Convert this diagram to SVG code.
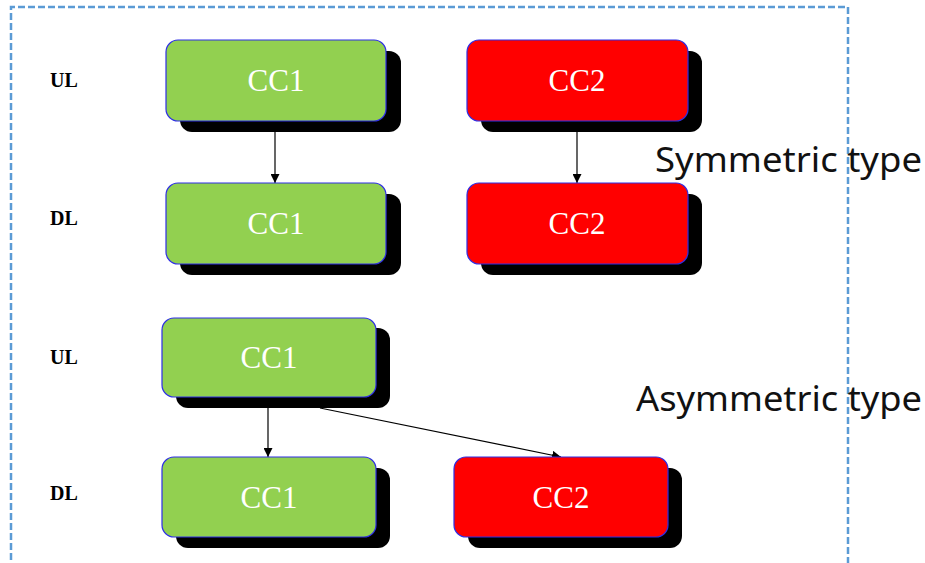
<svg xmlns="http://www.w3.org/2000/svg" width="925" height="563" viewBox="0 0 925 563">
<defs>
<style>
.frame{fill:none;stroke:#5B9BD5;stroke-width:2.5;stroke-dasharray:7 3}
.sh{fill:#000}
.g{fill:#92D050;stroke:#2E2EE6;stroke-width:1.2}
.r{fill:#FF0000;stroke:#2E2EE6;stroke-width:1.2}
.t{fill:#fff;font-family:"Liberation Serif",serif;font-size:31px;text-anchor:middle}
.lab{fill:#000;font-family:"Liberation Serif",serif;font-size:20px;font-weight:bold}
.big{fill:#111;font-family:"Noto Sans","Liberation Sans",sans-serif;font-size:34px}
.c{stroke:#000;stroke-width:1.2;fill:none;marker-end:url(#ah)}
</style>
<marker id="ah" viewBox="0 0 10 10" refX="10" refY="5" markerWidth="9" markerHeight="9" markerUnits="userSpaceOnUse" orient="auto">
<path d="M0,0 L10,5 L0,10 z" fill="#000"/>
</marker>
</defs>
<rect width="925" height="563" fill="#fff"/>
<path class="frame" d="M11,570 L11,7 L848,7 L848,570"/>
<text class="lab" x="50" y="87">UL</text>
<text class="lab" x="50" y="225">DL</text>
<text class="lab" x="50" y="364">UL</text>
<text class="lab" x="50" y="500">DL</text>
<text class="big" x="655" y="172" textLength="267" lengthAdjust="spacingAndGlyphs">Symmetric type</text>
<text class="big" x="636" y="411" textLength="286" lengthAdjust="spacingAndGlyphs">Asymmetric type</text>
<g id="connectors">
<line class="c" x1="275" y1="121" x2="275" y2="183"/>
<line class="c" x1="577" y1="121" x2="577" y2="183"/>
<line class="c" x1="268" y1="397" x2="268" y2="457"/>
<line class="c" x1="320" y1="408" x2="561" y2="457"/>
</g>
<g id="sym_ul_cc1">
<rect class="sh" x="180" y="51" width="221" height="81" rx="12"/>
<rect class="g" x="166" y="40" width="220" height="81" rx="12"/>
<text class="t" x="276" y="91">CC1</text>
</g>
<g id="sym_ul_cc2">
<rect class="sh" x="481" y="51" width="221" height="81" rx="12"/>
<rect class="r" x="467" y="40" width="221" height="81" rx="12"/>
<text class="t" x="577" y="91">CC2</text>
</g>
<g id="sym_dl_cc1">
<rect class="sh" x="180" y="194" width="221" height="81" rx="12"/>
<rect class="g" x="166" y="183" width="220" height="81" rx="12"/>
<text class="t" x="276" y="234">CC1</text>
</g>
<g id="sym_dl_cc2">
<rect class="sh" x="481" y="194" width="221" height="81" rx="12"/>
<rect class="r" x="467" y="183" width="221" height="81" rx="12"/>
<text class="t" x="577" y="234">CC2</text>
</g>
<g id="asym_ul_cc1">
<rect class="sh" x="176" y="328" width="214" height="80" rx="12"/>
<rect class="g" x="162" y="318" width="214" height="79" rx="12"/>
<text class="t" x="269" y="368">CC1</text>
</g>
<g id="asym_dl_cc1">
<rect class="sh" x="176" y="468" width="214" height="80" rx="12"/>
<rect class="g" x="162" y="457" width="214" height="80" rx="12"/>
<text class="t" x="269" y="508">CC1</text>
</g>
<g id="asym_dl_cc2">
<rect class="sh" x="468" y="468" width="214" height="80" rx="12"/>
<rect class="r" x="454" y="457" width="214" height="80" rx="12"/>
<text class="t" x="561" y="508">CC2</text>
</g>
</svg>
